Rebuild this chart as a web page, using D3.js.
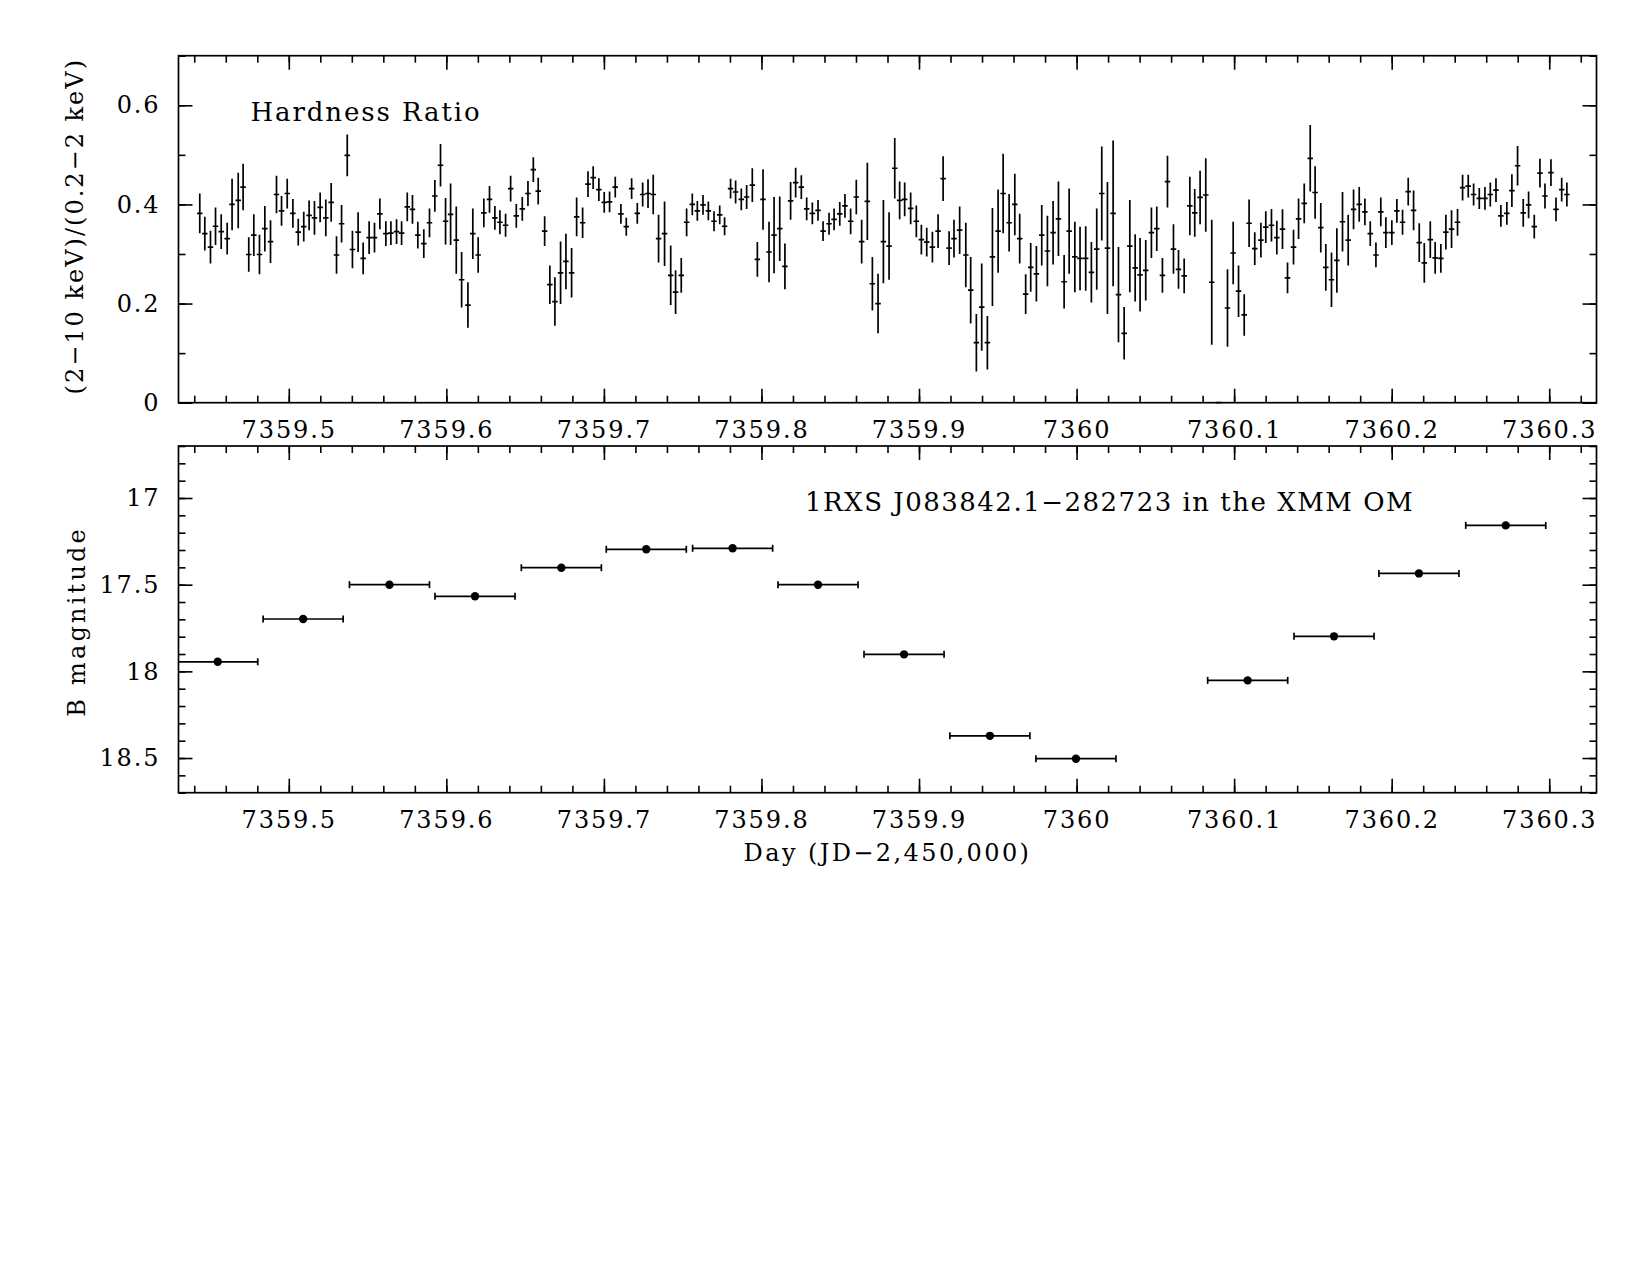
<!DOCTYPE html>
<html>
<head>
<meta charset="utf-8">
<script src="https://cdn.jsdelivr.net/npm/d3@7/dist/d3.min.js"></script>
<style>
    body { margin: 0; background: #fff; }
    svg text { font-family: "DejaVu Serif", serif; fill: #000; }
    .axis text { font-size: 24px; letter-spacing: 1.9px; }
    .axis line { stroke: #000; stroke-width: 1.6px; }
    .frame { fill: none; stroke: #000; stroke-width: 1.7px; }
    .err { stroke: #000; stroke-width: 1.7px; fill: none; }
    .label { font-size: 24px; letter-spacing: 2.4px; }
    .title { font-size: 26px; letter-spacing: 1.9px; }
</style>
</head>
<body>
<div id="chart"></div>
<script>

// Hardness ratio (2-10 keV)/(0.2-2 keV), 300 s bins
var hrTime = [
    7359.4435, 7359.4467, 7359.4503, 7359.4535, 7359.4571, 7359.4609, 7359.4640, 7359.4679, 7359.4710, 7359.4746,
    7359.4778, 7359.4814, 7359.4848, 7359.4884, 7359.4922, 7359.4954, 7359.4990, 7359.5026, 7359.5060, 7359.5095,
    7359.5129, 7359.5163, 7359.5199, 7359.5235, 7359.5269, 7359.5303, 7359.5335, 7359.5371, 7359.5404, 7359.5440,
    7359.5472, 7359.5510, 7359.5544, 7359.5578, 7359.5616, 7359.5648, 7359.5684, 7359.5716, 7359.5752, 7359.5785,
    7359.5819, 7359.5857, 7359.5893, 7359.5927, 7359.5963, 7359.5995, 7359.6027, 7359.6063, 7359.6097, 7359.6137,
    7359.6168, 7359.6202, 7359.6238, 7359.6274, 7359.6308, 7359.6340, 7359.6376, 7359.6408, 7359.6444, 7359.6482,
    7359.6518, 7359.6552, 7359.6583, 7359.6624, 7359.6657, 7359.6689, 7359.6725, 7359.6759, 7359.6795, 7359.6827,
    7359.6865, 7359.6899, 7359.6932, 7359.6968, 7359.7002, 7359.7036, 7359.7072, 7359.7108, 7359.7142, 7359.7176,
    7359.7212, 7359.7246, 7359.7280, 7359.7313, 7359.7347, 7359.7385, 7359.7424, 7359.7455, 7359.7491, 7359.7525,
    7359.7561, 7359.7593, 7359.7629, 7359.7663, 7359.7699, 7359.7735, 7359.7766, 7359.7804, 7359.7836, 7359.7872,
    7359.7906, 7359.7942, 7359.7974, 7359.8010, 7359.8048, 7359.8080, 7359.8116, 7359.8149, 7359.8185, 7359.8217,
    7359.8253, 7359.8287, 7359.8323, 7359.8359, 7359.8391, 7359.8429, 7359.8461, 7359.8497, 7359.8530, 7359.8566,
    7359.8602, 7359.8636, 7359.8672, 7359.8704, 7359.8740, 7359.8774, 7359.8810, 7359.8846, 7359.8877, 7359.8909,
    7359.8947, 7359.8983, 7359.9015, 7359.9049, 7359.9085, 7359.9121, 7359.9153, 7359.9191, 7359.9222, 7359.9258,
    7359.9297, 7359.9328, 7359.9364, 7359.9398, 7359.9434, 7359.9466, 7359.9502, 7359.9534, 7359.9572, 7359.9608,
    7359.9639, 7359.9677, 7359.9709, 7359.9745, 7359.9779, 7359.9815, 7359.9851, 7359.9885, 7359.9921, 7359.9953,
    7359.9989, 7360.0022, 7360.0058, 7360.0094, 7360.0128, 7360.0160, 7360.0196, 7360.0232, 7360.0266, 7360.0302,
    7360.0338, 7360.0372, 7360.0403, 7360.0439, 7360.0475, 7360.0509, 7360.0545, 7360.0577, 7360.0615, 7360.0647,
    7360.0683, 7360.0719, 7360.0750, 7360.0784, 7360.0820, 7360.0858, 7360.0903, 7360.0958, 7360.0994, 7360.1028,
    7360.1064, 7360.1095, 7360.1131, 7360.1170, 7360.1201, 7360.1237, 7360.1271, 7360.1307, 7360.1339, 7360.1377,
    7360.1409, 7360.1445, 7360.1483, 7360.1514, 7360.1550, 7360.1582, 7360.1618, 7360.1652, 7360.1688, 7360.1724,
    7360.1758, 7360.1794, 7360.1830, 7360.1864, 7360.1900, 7360.1931, 7360.1963, 7360.2001, 7360.2033, 7360.2069,
    7360.2105, 7360.2139, 7360.2175, 7360.2207, 7360.2245, 7360.2276, 7360.2312, 7360.2344, 7360.2380, 7360.2418,
    7360.2450, 7360.2486, 7360.2520, 7360.2556, 7360.2592, 7360.2626, 7360.2662, 7360.2693, 7360.2731, 7360.2763,
    7360.2799, 7360.2835, 7360.2869, 7360.2905, 7360.2941, 7360.2973, 7360.3011, 7360.3043, 7360.3079, 7360.3112
];

var hrValue = [
    0.382, 0.341, 0.314, 0.356, 0.345, 0.331, 0.400, 0.408, 0.435, 0.299,
    0.338, 0.299, 0.351, 0.325, 0.420, 0.387, 0.422, 0.382, 0.344, 0.355,
    0.378, 0.373, 0.394, 0.373, 0.404, 0.298, 0.361, 0.499, 0.309, 0.344,
    0.291, 0.333, 0.333, 0.381, 0.341, 0.342, 0.345, 0.342, 0.395, 0.390,
    0.338, 0.321, 0.363, 0.417, 0.479, 0.366, 0.380, 0.328, 0.248, 0.197,
    0.341, 0.298, 0.383, 0.410, 0.373, 0.364, 0.358, 0.432, 0.377, 0.391,
    0.422, 0.470, 0.427, 0.346, 0.238, 0.204, 0.262, 0.285, 0.262, 0.375,
    0.363, 0.441, 0.454, 0.430, 0.404, 0.405, 0.435, 0.381, 0.355, 0.432,
    0.382, 0.420, 0.422, 0.420, 0.331, 0.341, 0.257, 0.223, 0.257, 0.364,
    0.400, 0.387, 0.399, 0.387, 0.366, 0.379, 0.356, 0.432, 0.425, 0.410,
    0.415, 0.439, 0.289, 0.410, 0.304, 0.338, 0.351, 0.275, 0.407, 0.444,
    0.435, 0.391, 0.382, 0.388, 0.346, 0.361, 0.370, 0.381, 0.397, 0.366,
    0.415, 0.325, 0.406, 0.240, 0.200, 0.325, 0.316, 0.473, 0.408, 0.410,
    0.392, 0.366, 0.329, 0.324, 0.314, 0.346, 0.452, 0.312, 0.331, 0.348,
    0.298, 0.227, 0.121, 0.193, 0.121, 0.294, 0.346, 0.422, 0.363, 0.400,
    0.331, 0.219, 0.273, 0.260, 0.338, 0.306, 0.343, 0.371, 0.244, 0.346,
    0.294, 0.291, 0.291, 0.263, 0.310, 0.422, 0.312, 0.382, 0.218, 0.140,
    0.316, 0.272, 0.258, 0.267, 0.343, 0.351, 0.257, 0.446, 0.310, 0.269,
    0.256, 0.397, 0.383, 0.414, 0.419, 0.243, 0.000, 0.191, 0.302, 0.225,
    0.177, 0.362, 0.311, 0.328, 0.354, 0.358, 0.333, 0.350, 0.252, 0.314,
    0.371, 0.402, 0.493, 0.424, 0.353, 0.273, 0.248, 0.287, 0.365, 0.328,
    0.390, 0.400, 0.385, 0.341, 0.298, 0.385, 0.343, 0.343, 0.387, 0.364,
    0.426, 0.388, 0.323, 0.282, 0.329, 0.292, 0.291, 0.344, 0.350, 0.364,
    0.434, 0.437, 0.420, 0.412, 0.412, 0.420, 0.429, 0.377, 0.382, 0.428,
    0.478, 0.383, 0.399, 0.355, 0.463, 0.417, 0.464, 0.390, 0.430, 0.420
];

var hrError = [
    0.040, 0.034, 0.033, 0.038, 0.035, 0.032, 0.052, 0.056, 0.047, 0.035,
    0.042, 0.040, 0.046, 0.043, 0.038, 0.030, 0.030, 0.029, 0.027, 0.030,
    0.030, 0.034, 0.030, 0.037, 0.039, 0.038, 0.038, 0.042, 0.038, 0.040,
    0.032, 0.033, 0.030, 0.031, 0.025, 0.024, 0.025, 0.024, 0.029, 0.029,
    0.027, 0.029, 0.029, 0.032, 0.043, 0.047, 0.062, 0.068, 0.056, 0.046,
    0.051, 0.036, 0.029, 0.027, 0.024, 0.024, 0.023, 0.026, 0.024, 0.024,
    0.025, 0.025, 0.027, 0.030, 0.039, 0.049, 0.063, 0.056, 0.050, 0.039,
    0.031, 0.026, 0.023, 0.023, 0.021, 0.021, 0.021, 0.020, 0.018, 0.021,
    0.021, 0.024, 0.029, 0.040, 0.048, 0.065, 0.060, 0.044, 0.035, 0.028,
    0.022, 0.020, 0.020, 0.019, 0.020, 0.019, 0.018, 0.020, 0.023, 0.022,
    0.024, 0.034, 0.035, 0.061, 0.061, 0.077, 0.065, 0.046, 0.038, 0.030,
    0.024, 0.023, 0.022, 0.021, 0.020, 0.022, 0.022, 0.024, 0.024, 0.026,
    0.035, 0.044, 0.078, 0.054, 0.060, 0.084, 0.068, 0.061, 0.038, 0.034,
    0.032, 0.032, 0.030, 0.029, 0.031, 0.034, 0.045, 0.034, 0.038, 0.048,
    0.065, 0.067, 0.058, 0.088, 0.054, 0.099, 0.084, 0.080, 0.058, 0.062,
    0.050, 0.040, 0.049, 0.056, 0.061, 0.071, 0.064, 0.075, 0.054, 0.086,
    0.071, 0.064, 0.065, 0.061, 0.082, 0.095, 0.133, 0.147, 0.096, 0.053,
    0.093, 0.068, 0.074, 0.061, 0.051, 0.045, 0.035, 0.052, 0.050, 0.039,
    0.035, 0.059, 0.048, 0.054, 0.074, 0.126, 0.000, 0.078, 0.063, 0.052,
    0.042, 0.048, 0.033, 0.035, 0.032, 0.033, 0.034, 0.040, 0.031, 0.035,
    0.041, 0.040, 0.067, 0.053, 0.050, 0.047, 0.055, 0.065, 0.060, 0.051,
    0.040, 0.035, 0.027, 0.025, 0.025, 0.029, 0.031, 0.025, 0.024, 0.025,
    0.028, 0.040, 0.039, 0.040, 0.037, 0.032, 0.029, 0.035, 0.038, 0.027,
    0.026, 0.023, 0.022, 0.021, 0.023, 0.024, 0.024, 0.022, 0.023, 0.033,
    0.040, 0.028, 0.027, 0.024, 0.029, 0.025, 0.027, 0.024, 0.024, 0.024
];

var hrBinHalf = 0.00174;   // half of a 300 s bin, in days

// XMM Optical Monitor B magnitudes
var omTime = [7359.4549, 7359.5091, 7359.5639, 7359.6182, 7359.6730, 7359.7269, 7359.7817, 7359.8359,
              7359.8905, 7359.9450, 7359.9996, 7360.1086, 7360.1634, 7360.2173, 7360.2724];
var omTimeErr = [0.0254, 0.0254, 0.0254, 0.0254, 0.0254, 0.0254, 0.0254, 0.0254,
                 0.0254, 0.0254, 0.0254, 0.0254, 0.0254, 0.0254, 0.0254];
var omMag = [17.945, 17.698, 17.500, 17.567, 17.402, 17.296, 17.290, 17.500,
             17.902, 18.372, 18.504, 18.052, 17.798, 17.435, 17.158];
var omMagErr = [0.010, 0.010, 0.010, 0.010, 0.010, 0.010, 0.010, 0.010,
                0.011, 0.013, 0.015, 0.011, 0.010, 0.010, 0.010];

// Axis ticks and labels
var dayTicks = [7359.5, 7359.6, 7359.7, 7359.8, 7359.9, 7360.0, 7360.1, 7360.2, 7360.3];
var dayTickLabels = ["7359.5", "7359.6", "7359.7", "7359.8", "7359.9", "7360", "7360.1", "7360.2", "7360.3"];
var hrTicks = [0, 0.2, 0.4, 0.6];
var hrTickLabels = ["0", "0.2", "0.4", "0.6"];
var magTicks = [17, 17.5, 18, 18.5];
var magTickLabels = ["17", "17.5", "18", "18.5"];

var dayDomain = [7359.43, 7360.33];


/*
 *  Layout
 */

var svg = d3.select("#chart").append("svg")
    .attr("width", 1650)
    .attr("height", 1275);

var plotLeft = 178.5,
    plotWidth = 1418;

var topPanel = { top: 55.7, height: 347 };
var bottomPanel = { top: 446, height: 346.7 };

var x = d3.scaleLinear()
    .domain(dayDomain)
    .range([0, plotWidth]);

var dayMinor = d3.range(7359.44, 7360.331, 0.02);


/*
 *  Draw frame, inward ticks on all four sides, and tick labels on bottom/left
 */

function drawAxes(g, h, y, yMajor, yLabels, yMinor) {

    function clean(sel) { sel.select(".domain").remove(); }

    // bottom, labelled
    g.append("g").attr("class", "axis")
        .attr("transform", "translate(0," + h + ")")
        .call(d3.axisBottom(x).tickValues(dayTicks)
            .tickFormat(function(d, i) { return dayTickLabels[i]; })
            .tickSizeInner(-14).tickSizeOuter(0).tickPadding(18))
        .call(clean);
    g.append("g").attr("class", "axis")
        .attr("transform", "translate(0," + h + ")")
        .call(d3.axisBottom(x).tickValues(dayMinor).tickFormat("")
            .tickSizeInner(-7).tickSizeOuter(0))
        .call(clean);

    // top, mirrored
    g.append("g").attr("class", "axis")
        .call(d3.axisTop(x).tickValues(dayTicks).tickFormat("")
            .tickSizeInner(-14).tickSizeOuter(0))
        .call(clean);
    g.append("g").attr("class", "axis")
        .call(d3.axisTop(x).tickValues(dayMinor).tickFormat("")
            .tickSizeInner(-7).tickSizeOuter(0))
        .call(clean);

    // left, labelled
    g.append("g").attr("class", "axis")
        .call(d3.axisLeft(y).tickValues(yMajor)
            .tickFormat(function(d, i) { return yLabels[i]; })
            .tickSizeInner(-14).tickSizeOuter(0).tickPadding(18))
        .call(clean);
    g.append("g").attr("class", "axis")
        .call(d3.axisLeft(y).tickValues(yMinor).tickFormat("")
            .tickSizeInner(-7).tickSizeOuter(0))
        .call(clean);

    // right, mirrored
    g.append("g").attr("class", "axis")
        .attr("transform", "translate(" + plotWidth + ",0)")
        .call(d3.axisRight(y).tickValues(yMajor).tickFormat("")
            .tickSizeInner(-14).tickSizeOuter(0))
        .call(clean);
    g.append("g").attr("class", "axis")
        .attr("transform", "translate(" + plotWidth + ",0)")
        .call(d3.axisRight(y).tickValues(yMinor).tickFormat("")
            .tickSizeInner(-7).tickSizeOuter(0))
        .call(clean);

    g.append("rect")
        .attr("class", "frame")
        .attr("width", plotWidth)
        .attr("height", h);
}


/*
 *  Top panel: hardness ratio
 */

var gTop = svg.append("g")
    .attr("transform", "translate(" + plotLeft + "," + topPanel.top + ")");

var yHr = d3.scaleLinear()
    .domain([0, 0.7])
    .range([topPanel.height, 0]);

gTop.append("clipPath").attr("id", "clip-top")
    .append("rect").attr("width", plotWidth).attr("height", topPanel.height + 1);

var hrData = hrTime.map(function(t, i) {
    return { t: t, v: hrValue[i], e: hrError[i] };
});

var hrMarks = gTop.append("g").attr("clip-path", "url(#clip-top)");

hrMarks.selectAll(".hr-v")
    .data(hrData)
    .enter().append("line")
    .attr("class", "err hr-v")
    .attr("x1", function(d) { return x(d.t); })
    .attr("x2", function(d) { return x(d.t); })
    .attr("y1", function(d) { return yHr(d.v - d.e); })
    .attr("y2", function(d) { return yHr(d.v + d.e); });

hrMarks.selectAll(".hr-h")
    .data(hrData)
    .enter().append("line")
    .attr("class", "err hr-h")
    .attr("x1", function(d) { return x(d.t - hrBinHalf); })
    .attr("x2", function(d) { return x(d.t + hrBinHalf); })
    .attr("y1", function(d) { return yHr(d.v); })
    .attr("y2", function(d) { return yHr(d.v); });

drawAxes(gTop, topPanel.height, yHr, hrTicks, hrTickLabels, d3.range(0, 0.71, 0.1));

gTop.append("text")
    .attr("class", "title")
    .attr("x", 72)
    .attr("y", 65)
    .text("Hardness Ratio");

svg.append("text")
    .attr("class", "label")
    .attr("transform", "translate(83," + (topPanel.top + topPanel.height / 2 - 3) + ") rotate(-90)")
    .style("text-anchor", "middle")
    .style("letter-spacing", "2px")
    .text("(2\u221210 keV)/(0.2\u22122 keV)");


/*
 *  Bottom panel: OM B magnitude
 */

var gBot = svg.append("g")
    .attr("transform", "translate(" + plotLeft + "," + bottomPanel.top + ")");

var yMag = d3.scaleLinear()
    .domain([16.7, 18.7])
    .range([0, bottomPanel.height]);

gBot.append("clipPath").attr("id", "clip-bot")
    .append("rect").attr("width", plotWidth).attr("height", bottomPanel.height);

var omData = omTime.map(function(t, i) {
    return { t: t, te: omTimeErr[i], m: omMag[i], me: omMagErr[i] };
});

var omMarks = gBot.append("g").attr("clip-path", "url(#clip-bot)");

var pts = omMarks.selectAll(".om")
    .data(omData)
    .enter().append("g")
    .attr("class", "om");

pts.append("line")
    .attr("class", "err")
    .attr("x1", function(d) { return x(d.t - d.te); })
    .attr("x2", function(d) { return x(d.t + d.te); })
    .attr("y1", function(d) { return yMag(d.m); })
    .attr("y2", function(d) { return yMag(d.m); });

// end caps
[-1, 1].forEach(function(side) {
    pts.append("line")
        .attr("class", "err")
        .attr("x1", function(d) { return x(d.t + side * d.te); })
        .attr("x2", function(d) { return x(d.t + side * d.te); })
        .attr("y1", function(d) { return yMag(d.m) - 3.5; })
        .attr("y2", function(d) { return yMag(d.m) + 3.5; });
});

pts.append("line")
    .attr("class", "err")
    .attr("x1", function(d) { return x(d.t); })
    .attr("x2", function(d) { return x(d.t); })
    .attr("y1", function(d) { return yMag(d.m - d.me); })
    .attr("y2", function(d) { return yMag(d.m + d.me); });

pts.append("circle")
    .attr("cx", function(d) { return x(d.t); })
    .attr("cy", function(d) { return yMag(d.m); })
    .attr("r", 4.2)
    .style("fill", "#000");

drawAxes(gBot, bottomPanel.height, yMag, magTicks, magTickLabels, d3.range(16.7, 18.71, 0.1));

gBot.append("text")
    .attr("class", "title")
    .attr("x", 626.5)
    .attr("y", 65)
    .style("letter-spacing", "1.5px")
    .text("1RXS J083842.1\u2212282723 in the XMM OM");

svg.append("text")
    .attr("class", "label")
    .attr("transform", "translate(85," + (bottomPanel.top + bottomPanel.height / 2 + 2) + ") rotate(-90)")
    .style("text-anchor", "middle")
    .style("letter-spacing", "3.2px")
    .text("B magnitude");

svg.append("text")
    .attr("class", "label")
    .attr("x", plotLeft + plotWidth / 2)
    .attr("y", 861)
    .style("text-anchor", "middle")
    .text("Day (JD\u22122,450,000)");

</script>
</body>
</html>
